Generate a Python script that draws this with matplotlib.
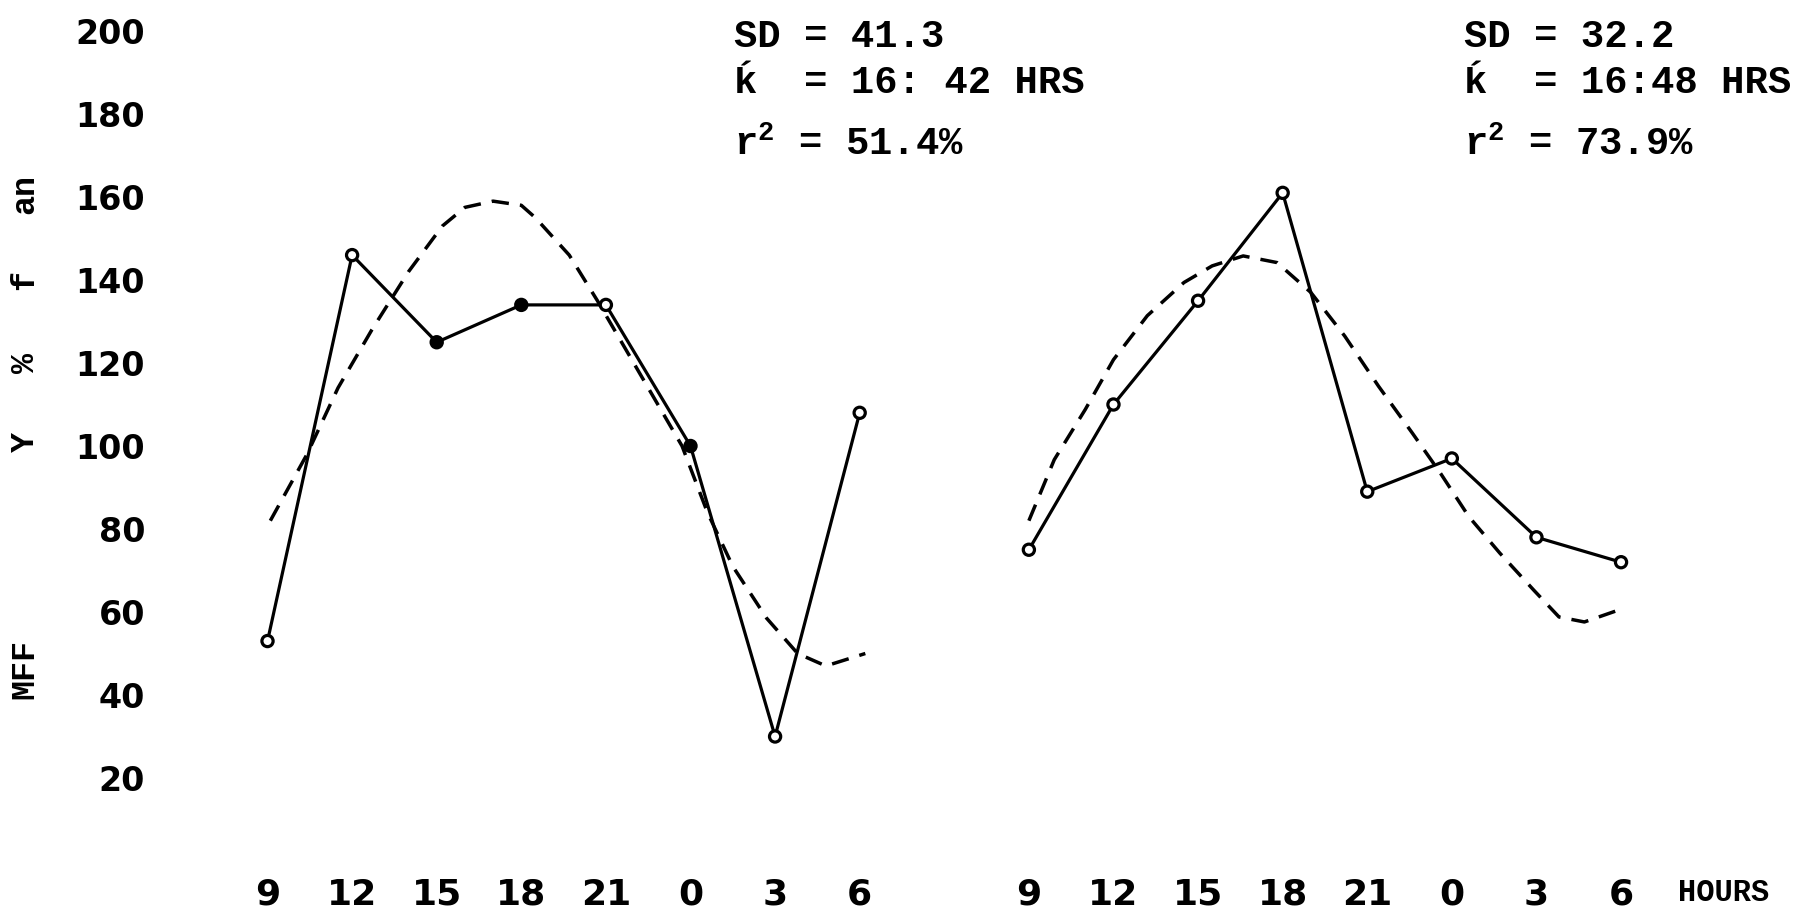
import matplotlib.pyplot as plt
import numpy as np

# clock hours of the 3-hourly samples, and hours elapsed since 09:00
hours = [9, 12, 15, 18, 21, 0, 3, 6]
t_obs = [0, 3, 6, 9, 12, 15, 18, 21]

# MEFR, % of mean, for the two subjects
left_obs = [53, 146, 125, 134, 134, 100, 30, 108]
right_obs = [75, 110, 135, 161, 89, 97, 78, 72]

# fitted cosine curves (hours since 09:00, value)
left_fit_t = [0.1, 1.4, 2.5, 3.7, 5.0, 6.2, 7.0, 8.0, 9.0, 9.5, 10.7, 11.7,
              12.9, 13.8, 14.7, 15.6, 16.5, 17.7, 18.8, 19.8, 21.2]
left_fit = [82, 98, 114, 128, 142, 153, 157.5, 159, 158, 155, 146, 135,
            121, 110.5, 100, 84, 71, 58.5, 50, 47, 50]
right_fit_t = [0.0, 0.9, 2.0, 3.0, 4.2, 5.5, 6.5, 7.6, 8.8, 10.0, 11.2, 12.4,
               13.6, 14.6, 15.6, 16.7, 17.9, 18.8, 19.7, 20.8]
right_fit = [82, 96.7, 108.8, 120.8, 131.4, 139.4, 143.4, 145.8, 144.2, 137,
             126.5, 114.4, 103.1, 93.4, 83, 74.2, 65.3, 58.8, 57.6, 60.2]

left_stats = ['SD = 41.3', '\u1e31  = 16: 42 HRS', r'r$^{\mathbf{2}}$ = 51.4%']
right_stats = ['SD = 32.2', '\u1e31  = 16:48 HRS', r'r$^{\mathbf{2}}$ = 73.9%']

# filled dots on the first record
left_filled = [False, False, True, True, False, True, False, False]
right_filled = [False] * 8

yticks = [20, 40, 60, 80, 100, 120, 140, 160, 180, 200]

W, H = 1808, 915
mono = ['Liberation Mono', 'DejaVu Sans Mono']
plt.rcParams['mathtext.fontset'] = 'custom'
plt.rcParams['mathtext.bf'] = 'Liberation Mono:bold'
plt.rcParams['mathtext.rm'] = 'Liberation Mono'

fig = plt.figure(figsize=(W / 100, H / 100), dpi=100)
ax = fig.add_axes([166 / W, 1 - 861 / H, 1534 / W, 850.75 / H])
ax.set_xlim(-3.6, 50.8)
ax.set_ylim(0, 205)

# second record is drawn 27 h to the right of the first
offset = 27
panels = [(left_obs, left_fit_t, left_fit, left_filled, 0),
          (right_obs, right_fit_t, right_fit, right_filled, offset)]

xt = []
for obs, ft, fv, filled, off in panels:
    x = np.array(t_obs) + off
    xt += list(x)
    ax.plot(x, obs, '-', color='black', lw=2.3, zorder=2)
    ax.plot(np.array(ft) + off, fv, color='black', lw=2.5,
            linestyle=(0, (5, 3.2)), zorder=2)
    fc = ['black' if f else 'white' for f in filled]
    ax.scatter(x, obs, s=65, facecolors=fc, edgecolors='black',
               linewidths=2.3, zorder=3)

ax.set_xticks(xt)
ax.set_xticklabels([str(h) for h in hours] * 2)
ax.set_yticks(yticks)
ax.set_yticklabels([str(v) for v in yticks])
for lab in ax.get_xticklabels():
    lab.set_fontweight('bold')
    lab.set_fontsize(26)
for lab in ax.get_yticklabels():
    lab.set_fontweight('bold')
    lab.set_fontsize(24)
ax.tick_params(axis='x', length=0, pad=12)
ax.tick_params(axis='y', length=0, pad=15)
for s in ax.spines.values():
    s.set_visible(False)

# cosinor results above each record
for lines, x0 in [(left_stats, 734), (right_stats, 1464)]:
    for txt, y in zip(lines, [37, 83, 145]):
        fig.text(x0 / W, 1 - y / H, txt, family=mono, weight='bold',
                 fontsize=28, ha='left', va='center')

fig.text(1724 / W, 1 - 893 / H, 'HOURS', family=mono, weight='bold',
         fontsize=22, ha='center', va='center')

# y-axis title, typed sideways
for txt, y in [('MFF', 669), ('Y', 442), ('%', 363), ('f', 280), ('an', 194)]:
    fig.text(25 / W, 1 - y / H, txt, family=mono, weight='bold',
             fontsize=24, rotation=90, ha='center', va='center')

fig.savefig('out.png', dpi=100)
